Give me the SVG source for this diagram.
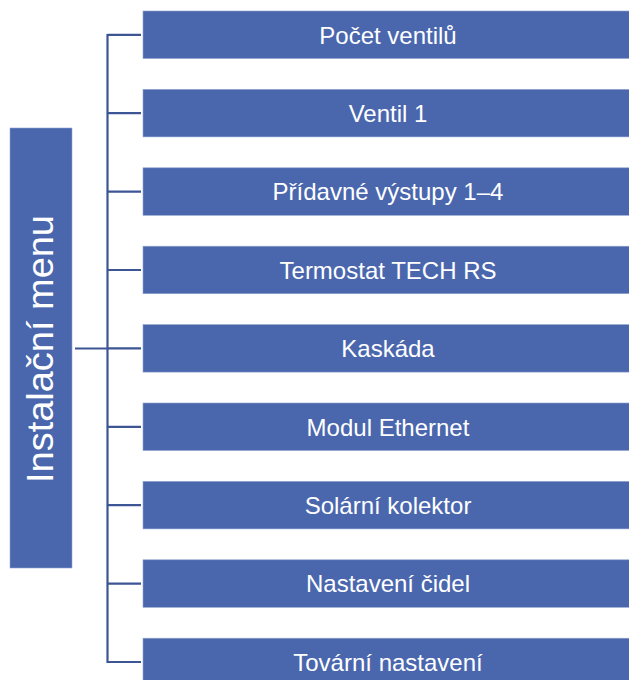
<svg xmlns="http://www.w3.org/2000/svg" width="629" height="680" viewBox="0 0 629 680">
<style>
.box{fill:#4A67AE;stroke:#8FA3D0;stroke-width:0.6}
.lbl{font-family:"Liberation Sans",Arial,sans-serif;font-size:24px;fill:#FFFFFF;text-anchor:middle}
.main{font-family:"Liberation Sans",Arial,sans-serif;font-size:37px;fill:#FFFFFF;text-anchor:middle}
.conn{stroke:#3D5594;stroke-width:2.2;fill:none}
</style>
<rect width="629" height="680" fill="#FFFFFF"/>
<g id="connectors">
<path class="conn" d="M75 348.5H107.5M107.5 34V663"/>
<path class="conn" d="M107.5 34.8H141M107.5 113.2H141M107.5 191.6H141M107.5 270H141M107.5 348.4H141M107.5 426.8H141M107.5 505.2H141M107.5 583.6H141M107.5 662H141"/>
</g>
<g id="root">
<rect class="box" x="10" y="128" width="62" height="440"/>
<text class="main" transform="translate(52.5,349) rotate(-90)" x="0" y="0" textLength="268" lengthAdjust="spacingAndGlyphs">Instalační menu</text>
</g>
<g id="n1"><rect class="box" x="143" y="11" width="492" height="47.5"/><text class="lbl" x="388" y="43.5">Počet ventilů</text></g>
<g id="n2"><rect class="box" x="143" y="89.4" width="492" height="47.5"/><text class="lbl" x="388" y="121.9">Ventil 1</text></g>
<g id="n3"><rect class="box" x="143" y="167.8" width="492" height="47.5"/><text class="lbl" x="388" y="200.3">Přídavné výstupy 1–4</text></g>
<g id="n4"><rect class="box" x="143" y="246.2" width="492" height="47.5"/><text class="lbl" x="388" y="278.7">Termostat TECH RS</text></g>
<g id="n5"><rect class="box" x="143" y="324.6" width="492" height="47.5"/><text class="lbl" x="388" y="357.1">Kaskáda</text></g>
<g id="n6"><rect class="box" x="143" y="403" width="492" height="47.5"/><text class="lbl" x="388" y="435.5">Modul Ethernet</text></g>
<g id="n7"><rect class="box" x="143" y="481.4" width="492" height="47.5"/><text class="lbl" x="388" y="513.9">Solární kolektor</text></g>
<g id="n8"><rect class="box" x="143" y="559.8" width="492" height="47.5"/><text class="lbl" x="388" y="592.3">Nastavení čidel</text></g>
<g id="n9"><rect class="box" x="143" y="638.2" width="492" height="47.5"/><text class="lbl" x="388" y="670.7">Tovární nastavení</text></g>
</svg>
